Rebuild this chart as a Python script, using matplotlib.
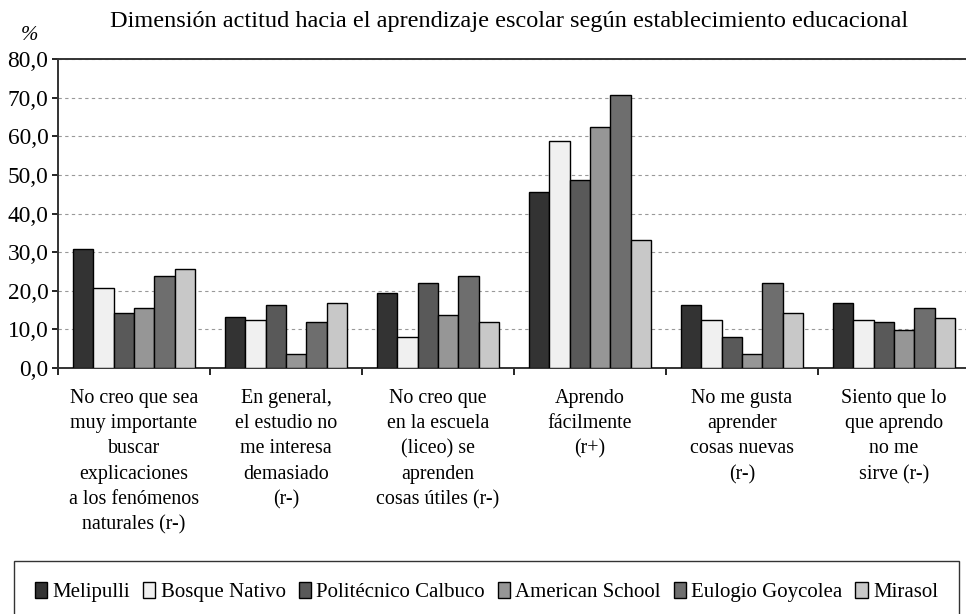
#!/usr/bin/env python3

import matplotlib

matplotlib.use("Agg")
import matplotlib.pyplot as plt
import numpy as np


categories = [
    "No creo que sea\nmuy importante\nbuscar\nexplicaciones\na los fenómenos\nnaturales (r-)",
    "En general,\nel estudio no\nme interesa\ndemasiado\n(r-)",
    "No creo que\nen la escuela\n(liceo) se\naprenden\ncosas útiles (r-)",
    "Aprendo\nfácilmente\n(r+)",
    "No me gusta\naprender\ncosas nuevas\n(r-)",
    "Siento que lo\nque aprendo\nno me\nsirve (r-)",
]

schools = [
    "Melipulli",
    "Bosque Nativo",
    "Politécnico Calbuco",
    "American School",
    "Eulogio Goycolea",
    "Mirasol",
]

melipulli = [30.7, 13.1, 19.4, 45.6, 16.3, 16.8]
bosque_nativo = [20.6, 12.4, 8.0, 58.7, 12.4, 12.4]
politecnico_calbuco = [14.3, 16.3, 21.9, 48.8, 8.0, 11.8]
american_school = [15.6, 3.7, 13.7, 62.5, 3.7, 9.9]
eulogio_goycolea = [23.8, 11.8, 23.8, 70.7, 21.9, 15.6]
mirasol = [25.7, 16.8, 11.8, 33.2, 14.3, 13.0]

series = [melipulli, bosque_nativo, politecnico_calbuco,
          american_school, eulogio_goycolea, mirasol]
colors = ["#333333", "#f0f0f0", "#595959", "#969696", "#6e6e6e", "#c8c8c8"]

FONT = "Liberation Serif"
plt.rcParams["font.family"] = [FONT, "DejaVu Serif"]

fig = plt.figure(figsize=(9.66, 6.14), dpi=100)
ax = fig.add_axes([58 / 966, 1 - 368 / 614, 912 / 966, 309 / 614])

x = np.arange(len(categories))
width = 0.134
for i, (name, values, color) in enumerate(zip(schools, series, colors)):
    ax.bar(x + (i - 2.5) * width, values, width, color=color,
           edgecolor="black", linewidth=1.0, label=name, zorder=3)

ax.set_xlim(-0.5, len(categories) - 0.5)
ax.set_ylim(0, 80)
ax.set_yticks(np.arange(0, 81, 10))
ax.set_yticklabels([f"{v:.1f}".replace(".", ",") for v in np.arange(0, 81, 10)],
                   fontsize=16.8)
ax.grid(True, axis="y", color="#999999", linestyle=(0, (3, 3)), linewidth=0.8, zorder=0)

# group boundaries get the tick marks, the labels sit at the group centres
ax.set_xticks(np.arange(len(categories) + 1) - 0.5)
ax.set_xticklabels([])
ax.set_xticks(x, minor=True)
ax.set_xticklabels(categories, minor=True, fontsize=14.4, linespacing=1.45, va="top")
ax.tick_params(axis="x", which="minor", length=0, pad=15)
ax.tick_params(axis="x", which="major", length=5, width=1.2, direction="out")
ax.tick_params(axis="y", length=4, width=1.2, direction="out", pad=3)

for side in ("left", "bottom", "top"):
    ax.spines[side].set_linewidth(1.4)
    ax.spines[side].set_color("#333333")
ax.spines["right"].set_visible(False)

fig.text(509 / 966, 1 - 21 / 614, "Dimensión actitud hacia el aprendizaje escolar según establecimiento educacional",
         ha="center", va="center", fontsize=17.5)
fig.text(29 / 966, 1 - 35 / 614, "%", ha="center", va="center", fontsize=15, style="italic")

leg = fig.legend(loc="upper left", bbox_to_anchor=(14 / 966, 1 - 561 / 614, 945 / 966, 0.0),
                 mode="expand", ncol=6, fontsize=15, frameon=True, fancybox=False,
                 edgecolor="black", borderpad=1.0, handlelength=0.6, handleheight=0.8,
                 handletextpad=0.25, borderaxespad=0.0)
leg.get_frame().set_linewidth(1.0)

fig.savefig("out.png", dpi=100)
